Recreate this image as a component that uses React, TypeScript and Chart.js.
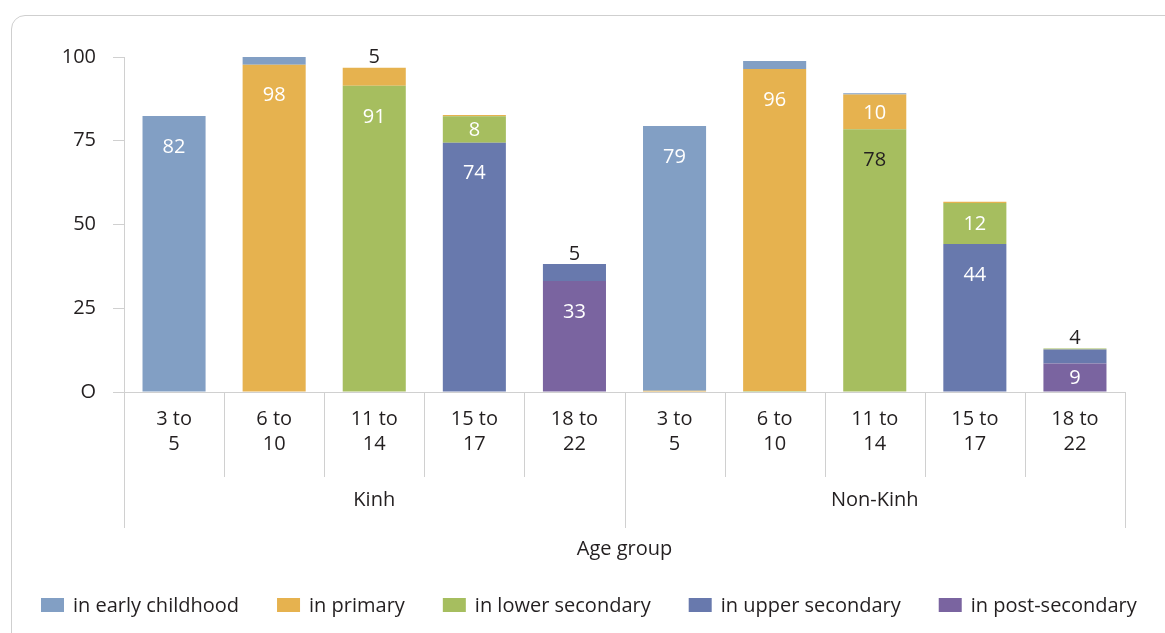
import React, { useEffect, useRef } from 'react';
import { Chart, registerables } from 'chart.js';

Chart.register(...registerables);

// ---------- data ----------
const groups = ['Kinh', 'Non-Kinh'];
const ageGroups = [['3 to', '5'], ['6 to', '10'], ['11 to', '14'], ['15 to', '17'], ['18 to', '22']];
const categories = [...ageGroups, ...ageGroups];
const axisTitle = 'Age group';

const earlyChildhood = [82.4, 2.3, 0, 0, 0, 79, 2.4, 0.4, 0, 0];
const primary = [0, 97.7, 5.4, 0.4, 0, 0.4, 96.1, 10.4, 0.4, 0];
const lowerSecondary = [0, 0, 91.4, 7.9, 0, 0, 0.3, 78.4, 12.2, 0.3];
const upperSecondary = [0, 0, 0, 74.4, 5.1, 0, 0, 0, 44.2, 4.2];
const postSecondary = [0, 0, 0, 0, 33.1, 0, 0, 0, 0, 8.5];

const yTickValues = [0, 25, 50, 75, 100];
const yTickLabels = ['O', '25', '50', '75', '100'];

// legend order
const legendNames = ['in early childhood', 'in primary', 'in lower secondary', 'in upper secondary', 'in post-secondary'];

// ---------- styles ----------
const FONT = '"Open Sans", "Noto Sans", sans-serif';
const TEXT = '#231f20';
const LINE = '#d0d0d0';
const COLORS: Record<string, string> = {
  'in early childhood': '#829fc4',
  'in primary': '#e6b24f',
  'in lower secondary': '#a6be5f',
  'in upper secondary': '#6879ad',
  'in post-secondary': '#7a64a0',
};
const DARK_LABEL = { series: 'in lower secondary', index: 7 };

const decorPlugin = {
  id: 'decor',
  afterDatasetsDraw(chart: any) {
    const ctx = chart.ctx;
    const n = chart.data.labels.length;
    ctx.save();
    ctx.font = `20px ${FONT}`;
    ctx.textAlign = 'center';
    ctx.textBaseline = 'middle';
    for (let i = 0; i < n; i++) {
      let stackTop = Infinity;
      chart.data.datasets.forEach((ds: any, d: number) => {
        const el = chart.getDatasetMeta(d).data[i];
        if (ds.data[i] > 0) stackTop = Math.min(stackTop, el.y);
      });
      chart.data.datasets.forEach((ds: any, d: number) => {
        const v = ds.data[i];
        if (v < 3) return;
        const el = chart.getDatasetMeta(d).data[i];
        const top = el.y;
        const base = el.base;
        const h = base - top;
        let y: number;
        let color: string;
        if (h >= 22) {
          y = Math.min(top + 30, (top + base) / 2);
          color = ds.label === DARK_LABEL.series && i === DARK_LABEL.index ? TEXT : '#ffffff';
        } else {
          y = stackTop - 11;
          color = TEXT;
        }
        ctx.fillStyle = color;
        ctx.fillText(String(Math.round(v)), el.x, y + 1);
      });
    }
    ctx.restore();
  },
  afterDraw(chart: any) {
    const ctx = chart.ctx;
    const xs = chart.scales.x;
    const { left, right, bottom } = chart.chartArea;
    const n = chart.data.labels.length;
    const per = n / groups.length;
    const edge = (i: number) =>
      i === 0 ? left : i === n ? right : (xs.getPixelForTick(i - 1) + xs.getPixelForTick(i)) / 2;

    ctx.save();
    ctx.strokeStyle = LINE;
    ctx.lineWidth = 1;
    for (let i = 0; i <= n; i++) {
      const x = Math.round(edge(i)) + 0.5;
      const len = i % per === 0 ? 136 : 85;
      ctx.beginPath();
      ctx.moveTo(x, bottom);
      ctx.lineTo(x, bottom + len);
      ctx.stroke();
    }
    // group labels
    ctx.font = `20px ${FONT}`;
    ctx.fillStyle = TEXT;
    ctx.textAlign = 'center';
    ctx.textBaseline = 'middle';
    groups.forEach((g, k) => {
      const x = (edge(k * per) + edge((k + 1) * per)) / 2;
      ctx.fillText(g, x, bottom + 108);
    });

    // legend
    const ly = 605;
    let lx = 41;
    ctx.textAlign = 'left';
    legendNames.forEach((name) => {
      ctx.fillStyle = COLORS[name];
      ctx.fillRect(lx, ly - 7, 23, 14);
      ctx.fillStyle = TEXT;
      ctx.fillText(name, lx + 32, ly + 1);
      lx += 32 + ctx.measureText(name).width + 38;
    });
    ctx.restore();
  },
};

export default function App() {
  const ref = useRef<HTMLCanvasElement | null>(null);

  useEffect(() => {
    if (!ref.current) return;
    // stacking order bottom -> top
    const stackOrder: [string, number[]][] = [
      ['in post-secondary', postSecondary],
      ['in upper secondary', upperSecondary],
      ['in lower secondary', lowerSecondary],
      ['in primary', primary],
      ['in early childhood', earlyChildhood],
    ];
    const chart = new Chart(ref.current, {
      type: 'bar',
      data: {
        labels: categories,
        datasets: stackOrder.map(([label, data]) => ({
          label,
          data,
          backgroundColor: COLORS[label],
          borderWidth: 0,
          barPercentage: 0.63,
          categoryPercentage: 1,
        })),
      },
      options: {
        animation: false,
        responsive: true,
        maintainAspectRatio: false,
        layout: { padding: { top: 57, right: 40, bottom: 72, left: 0 } },
        plugins: {
          legend: { display: false },
          tooltip: { enabled: false },
          title: { display: false },
        },
        scales: {
          x: {
            stacked: true,
            grid: { display: false },
            border: { display: true, color: LINE, width: 1 },
            ticks: {
              color: TEXT,
              font: { family: FONT, size: 20, lineHeight: 1.25 },
              padding: 7,
              maxRotation: 0,
              autoSkip: false,
            },
            title: {
              display: true,
              text: axisTitle,
              color: TEXT,
              font: { family: FONT, size: 20, lineHeight: 1.2 },
              padding: 0,
            },
            afterFit(s: any) {
              s.height = 169;
            },
          },
          y: {
            stacked: true,
            min: 0,
            max: 100,
            afterBuildTicks(s: any) {
              s.ticks = yTickValues.map((v) => ({ value: v }));
            },
            grid: {
              display: true,
              drawOnChartArea: false,
              drawTicks: true,
              tickLength: 11,
              color: LINE,
            },
            border: { display: true, color: LINE, width: 1 },
            ticks: {
              color: TEXT,
              font: { family: FONT, size: 20 },
              padding: 17,
              callback: (v: any) => yTickLabels[yTickValues.indexOf(Number(v))] ?? String(v),
            },
            afterFit(s: any) {
              s.width = 124;
            },
          },
        },
      },
      plugins: [decorPlugin],
    });
    return () => chart.destroy();
  }, []);

  return (
    <div style={{ position: 'fixed', left: 0, top: 0, width: 1165, height: 633, overflow: 'hidden', background: '#fff' }}>
      <div
        style={{
          position: 'absolute',
          left: 11,
          top: 15,
          width: 1200,
          height: 700,
          border: '1px solid #cfcfcf',
          borderRadius: 14,
          boxSizing: 'border-box',
        }}
      />
      <div style={{ position: 'absolute', left: 0, top: 0, width: 1165, height: 633 }}>
        <canvas ref={ref} />
      </div>
    </div>
  );
}
